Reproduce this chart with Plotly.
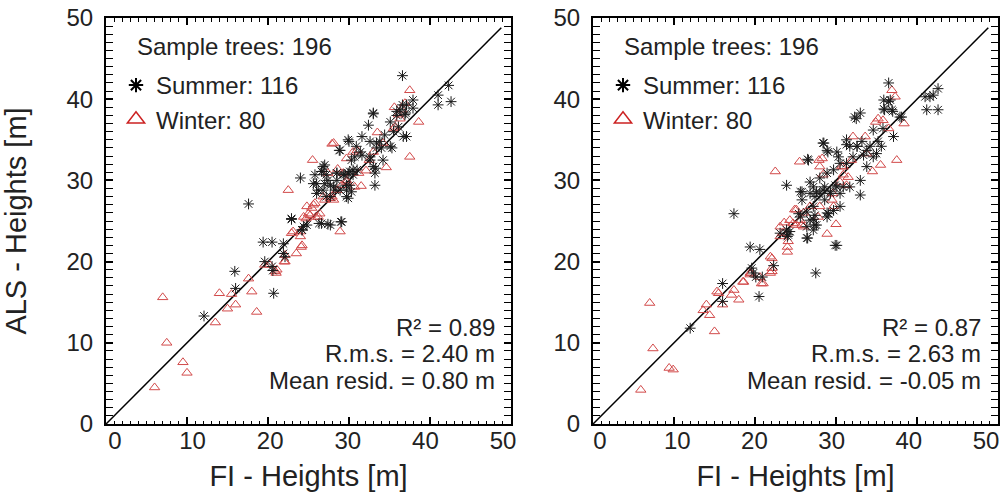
import plotly.graph_objects as go

# ---------------- data ----------------
left_summer_x = [12.1, 16.0, 15.9, 17.6, 19.4, 20.5, 19.6, 20.5, 20.6, 20.7, 21.9, 21.9, 22.1, 22.9, 24.2,
                 24.0, 24.8, 26.3, 27.4, 27.7, 29.1, 25.6, 25.8, 26.0, 26.2, 26.6, 26.8, 27.0, 27.2, 27.4,
                 27.7, 28.1, 28.5, 28.5, 28.8, 28.9, 29.3, 29.5, 29.7, 29.9, 30.1, 30.3, 29.9, 30.5, 30.5,
                 31.0, 29.9, 30.7, 30.9, 31.4, 31.6, 31.6, 32.4, 33.0, 33.2, 32.6, 33.0, 33.2, 33.4, 33.4,
                 33.8, 34.0, 34.2, 34.4, 35.1, 35.1, 35.3, 35.5, 35.9, 36.1, 36.3, 36.6, 36.6, 36.7, 36.9,
                 37.1, 37.1, 37.9, 37.9, 41.0, 41.0, 42.3, 42.6, 27.2, 27.7, 26.8, 26.0, 29.7, 28.3, 29.7,
                 30.1, 28.5, 30.3, 32.6, 33.3, 26.8, 27.0, 22.9, 24.4, 26.6, 29.0, 32.6, 30.0, 28.9, 35.9,
                 37.0, 33.0, 24.2]
left_summer_y = [13.3, 16.7, 18.8, 27.1, 22.4, 22.4, 20.0, 19.4, 18.9, 16.1, 22.2, 21.0, 20.6, 25.2, 23.9,
                 30.3, 24.5, 24.7, 24.6, 24.5, 24.9, 29.6, 30.7, 29.6, 28.8, 31.1, 31.7, 31.9, 30.7, 30.0,
                 29.4, 29.2, 30.0, 30.9, 33.7, 28.8, 30.7, 30.7, 28.8, 27.8, 29.4, 28.6, 30.9, 31.3, 30.7,
                 31.3, 35.0, 32.9, 34.2, 33.5, 33.1, 35.4, 36.8, 38.3, 29.4, 32.5, 31.7, 30.9, 34.0, 34.6,
                 34.8, 34.0, 32.5, 35.6, 34.2, 37.2, 34.0, 36.0, 38.0, 36.6, 38.7, 39.3, 42.9, 35.4, 38.1,
                 35.4, 39.3, 38.9, 39.9, 40.5, 39.3, 41.7, 39.7, 28.0, 28.0, 28.8, 28.4, 28.0, 28.8, 29.4,
                 31.1, 30.9, 32.5, 32.9, 31.5, 31.1, 29.6, 25.3, 24.3, 24.7, 24.9, 34.8, 34.8, 33.7, 38.5,
                 38.3, 38.2, 23.9]

left_winter_x = [6.0, 10.0, 9.5, 7.5, 7.0, 13.5, 15.0, 16.0, 14.0, 15.5, 17.6, 18.0, 18.6, 19.6, 20.2,
                 21.0, 21.1, 22.0, 22.1, 23.5, 24.1, 24.0, 24.2, 22.9, 23.1, 24.0, 22.5, 25.5, 28.9, 27.9,
                 37.5, 38.6, 37.5, 34.6, 33.5, 31.5, 32.1, 35.6, 36.1, 35.7, 36.3, 29.7, 30.5, 28.6, 28.1,
                 31.0, 24.7, 24.8, 25.2, 25.4, 25.6, 25.8, 25.9, 26.2, 26.4, 27.0, 27.7, 27.9, 28.1, 28.5,
                 29.1, 29.7, 29.7, 30.7, 31.2, 32.5, 33.0, 34.2, 35.5, 36.5, 36.9, 29.3, 27.4, 25.0, 26.8,
                 24.4, 22.1, 20.9]
left_winter_y = [4.5, 6.3, 7.6, 10.0, 15.6, 12.5, 14.2, 14.7, 16.1, 16.0, 17.9, 16.3, 13.8, 19.6, 19.6,
                 18.6, 19.0, 20.0, 20.8, 21.0, 21.8, 23.1, 22.0, 23.5, 23.7, 23.7, 28.8, 32.5, 23.7, 34.5,
                 41.1, 37.2, 32.9, 31.6, 35.9, 29.3, 31.2, 39.0, 38.1, 36.6, 37.6, 32.7, 33.5, 31.4, 34.6,
                 33.7, 25.3, 26.8, 25.7, 26.6, 27.0, 27.2, 25.5, 25.5, 25.9, 27.6, 27.8, 28.0, 27.6, 28.8,
                 29.4, 29.8, 30.0, 29.2, 30.9, 32.5, 33.5, 34.6, 36.4, 38.7, 39.5, 30.9, 30.9, 25.9, 28.0,
                 25.5, 20.0, 18.8]

right_summer_x = [12.0, 16.0, 16.0, 17.4, 19.4, 20.6, 20.5, 19.6, 20.1, 20.9, 23.9, 26.5, 27.5, 26.5, 24.0,
                  24.3, 25.4, 26.4, 27.2, 27.4, 30.1, 28.9, 29.1, 28.4, 29.0, 30.1, 31.3, 33.0, 33.0, 32.3,
                  33.0, 36.0, 36.5, 36.7, 37.9, 37.1, 35.6, 34.2, 33.4, 33.8, 32.6, 31.7, 31.3, 30.3, 29.7,
                  28.9, 28.0, 27.2, 26.8, 25.8, 25.8, 26.8, 27.6, 28.0, 28.6, 29.3, 29.9, 30.5, 28.6, 27.2,
                  26.4, 23.9, 23.1, 41.0, 42.0, 42.6, 41.2, 42.6, 34.6, 34.6, 35.2, 35.9, 36.9, 30.9, 31.7,
                  30.5, 29.7, 27.2, 22.3, 37.0, 35.9, 38.1, 41.6, 32.5, 28.5, 28.9, 31.3, 32.6, 33.2, 35.8,
                  33.8, 35.0, 32.1, 30.5, 26.6, 25.6, 28.4, 29.3, 30.1, 27.4, 28.9, 27.4, 25.6, 26.8, 27.6,
                  26.4, 29.9, 24.1, 19.8, 36.5]
right_summer_y = [11.8, 17.3, 15.1, 25.9, 21.8, 21.5, 15.7, 19.2, 18.1, 18.1, 29.4, 32.6, 18.6, 22.9, 23.1,
                  23.7, 25.9, 24.3, 25.2, 24.5, 22.0, 25.5, 25.9, 34.6, 33.5, 33.5, 32.1, 28.2, 30.0, 37.8,
                  38.3, 38.7, 42.0, 39.9, 37.8, 35.4, 34.2, 34.2, 33.1, 31.7, 34.2, 34.2, 35.0, 32.9, 31.3,
                  30.9, 30.3, 29.2, 29.8, 28.6, 27.6, 28.4, 28.6, 28.4, 29.2, 28.6, 29.4, 28.4, 27.6, 26.8,
                  26.1, 23.9, 23.5, 40.3, 40.5, 41.3, 38.7, 38.7, 36.2, 32.9, 34.8, 39.9, 38.7, 29.2, 29.2,
                  26.8, 26.3, 23.9, 19.5, 38.5, 38.8, 37.8, 40.3, 37.6, 34.6, 33.7, 34.4, 34.2, 34.8, 36.4,
                  33.7, 33.3, 32.9, 32.1, 32.5, 28.6, 28.8, 28.4, 29.2, 28.0, 26.0, 25.7, 25.5, 25.1, 24.5,
                  22.9, 22.0, 23.3, 18.6, 39.7]

right_winter_x = [5.9, 9.4, 9.9, 7.4, 7.0, 15.0, 14.4, 14.0, 13.6, 15.3, 16.0, 17.1, 17.4, 18.0, 18.5,
                  19.4, 21.0, 22.1, 22.1, 24.0, 24.0, 23.6, 24.9, 26.0, 25.8, 28.9, 30.0, 22.5, 25.5, 28.3,
                  28.4, 29.6, 30.9, 31.3, 32.1, 33.6, 34.5, 35.5, 37.5, 38.4, 35.8, 36.9, 37.3, 29.5, 28.0,
                  30.5, 31.5, 27.8, 26.8, 25.6, 24.7, 23.1, 23.4, 20.6, 19.5, 33.8, 31.9, 30.9, 35.2, 36.5,
                  27.9, 28.0, 30.7, 25.1, 24.3, 25.1, 26.0, 24.1, 23.1, 21.9, 22.1, 21.9, 20.8, 19.4, 18.6,
                  15.5, 29.7, 34.9]
right_winter_y = [4.2, 6.9, 6.7, 9.3, 14.9, 11.4, 13.4, 14.7, 14.0, 16.3, 14.7, 15.9, 16.5, 15.3, 17.5,
                  18.4, 17.3, 18.8, 20.4, 21.2, 21.8, 24.8, 26.4, 26.0, 24.5, 23.4, 24.6, 31.1, 32.3, 32.7,
                  30.7, 28.4, 31.7, 29.4, 35.4, 35.4, 31.1, 31.9, 32.5, 37.0, 37.4, 41.1, 40.3, 27.6, 26.8,
                  29.8, 30.4, 25.5, 26.8, 25.1, 24.7, 24.3, 23.5, 18.1, 18.6, 33.3, 32.5, 30.7, 37.6, 36.4,
                  32.5, 31.7, 31.7, 26.4, 25.1, 24.5, 24.3, 22.5, 23.1, 20.6, 19.2, 18.6, 17.3, 18.6, 17.5,
                  16.1, 26.8, 37.2]

one_to_one = [0, 48.8]
axis_ticks = [0, 10, 20, 30, 40, 50]

sample_label = "Sample trees: 196"
summer_label = "Summer: 116"
winter_label = "Winter: 80"
left_stats = ["R² = 0.89", "R.m.s. = 2.40 m", "Mean resid. = 0.80 m"]
right_stats = ["R² = 0.87", "R.m.s. = 2.63 m", "Mean resid. = -0.05 m"]

# ---------------- styling ----------------
FONT = "Liberation Sans, Arial, Helvetica, sans-serif"
TXT = "#222222"
SUMMER_C = "#1a1a1a"
WINTER_C = "#d24a4a"

W, H = 1004, 500


def px(p):
    return p / W


def py(p):
    return 1 - p / H


fig = go.Figure()

panels = [
    ("x", "y", left_summer_x, left_summer_y, left_winter_x, left_winter_y, "legend"),
    ("x2", "y2", right_summer_x, right_summer_y, right_winter_x, right_winter_y, "legend2"),
]
for xa, ya, sx, sy, wx, wy, lg in panels:
    fig.add_trace(go.Scatter(x=one_to_one, y=one_to_one, mode="lines", xaxis=xa, yaxis=ya,
                             line=dict(color="black", width=1.5), showlegend=False, hoverinfo="skip"))
    fig.add_trace(go.Scatter(x=wx, y=wy, mode="markers", xaxis=xa, yaxis=ya, showlegend=False,
                             marker=dict(symbol="triangle-up-open", size=9, color=WINTER_C,
                                         line=dict(width=1, color=WINTER_C))))
    fig.add_trace(go.Scatter(x=sx, y=sy, mode="markers", xaxis=xa, yaxis=ya, showlegend=False,
                             marker=dict(symbol="asterisk-open", size=9, color=SUMMER_C,
                                         line=dict(width=1, color=SUMMER_C))))
    # legend entries
    fig.add_trace(go.Scatter(x=[None], y=[None], mode="markers", xaxis=xa, yaxis=ya, name=summer_label,
                             legend=lg,
                             marker=dict(symbol="asterisk-open", size=12, color="black",
                                         line=dict(width=2, color="black"))))
    fig.add_trace(go.Scatter(x=[None], y=[None], mode="markers", xaxis=xa, yaxis=ya, name=winter_label,
                             legend=lg,
                             marker=dict(symbol="triangle-up-open", size=15, color="#cc2222",
                                         line=dict(width=1.5, color="#cc2222"))))

axis_common = dict(
    range=[0, 50], tickvals=axis_ticks, showline=True, linewidth=2, linecolor="black",
    mirror="allticks", ticks="inside", ticklen=7, tickwidth=1.5, tickcolor="black",
    minor=dict(dtick=1, ticklen=3.5, ticks="inside", tickcolor="black", tickwidth=1),
    showgrid=False, zeroline=False, automargin=False, ticklabeloverflow="allow",
    tickfont=dict(family=FONT, size=24, color=TXT),
)

# x tick labels in the reference sit on a slightly tighter spacing than the tick marks:
# a label-only axis overlays each x axis to reproduce that.
label_axis = dict(
    showline=False, ticks="", showgrid=False, zeroline=False, automargin=False,
    tickvals=axis_ticks, ticklabeloverflow="allow", ticklabelstandoff=0,
    tickfont=dict(family=FONT, size=24, color=TXT), fixedrange=True,
)

ydom = [py(424), py(18)]
title_font = dict(size=29, family=FONT, color=TXT)
fig.update_layout(
    width=W, height=H,
    margin=dict(l=0, r=0, t=0, b=0),
    paper_bgcolor="white", plot_bgcolor="white",
    font=dict(family=FONT, color=TXT),
    xaxis=dict(domain=[px(106), px(511)], anchor="y", showticklabels=False, **axis_common),
    yaxis=dict(domain=ydom, anchor="x",
               title=dict(text="ALS - Heights [m]", font=title_font, standoff=32),
               ticklabelstandoff=6, **axis_common),
    xaxis2=dict(domain=[px(593), px(998)], anchor="y2", showticklabels=False, **axis_common),
    yaxis2=dict(domain=ydom, anchor="x2", ticklabelstandoff=6, **axis_common),
    xaxis3=dict(overlaying="x", anchor="y", side="bottom", range=[-1.16, 51.03],
                title=dict(text="FI - Heights [m]", font=title_font, standoff=12), **label_axis),
    xaxis4=dict(overlaying="x2", anchor="y2", side="bottom", range=[-0.91, 51.55],
                title=dict(text="FI - Heights [m]", font=title_font, standoff=12), **label_axis),
    legend=dict(x=px(116), y=py(63), xanchor="left", yanchor="top",
                bgcolor="rgba(0,0,0,0)", font=dict(size=24, family=FONT, color=TXT),
                tracegroupgap=0, itemwidth=30),
    legend2=dict(x=px(603), y=py(63), xanchor="left", yanchor="top",
                 bgcolor="rgba(0,0,0,0)", font=dict(size=24, family=FONT, color=TXT),
                 tracegroupgap=0, itemwidth=30),
    showlegend=True,
)

# invisible traces so the label axes are drawn with their titles
fig.add_trace(go.Scatter(x=[None], y=[None], xaxis="x3", yaxis="y", showlegend=False, hoverinfo="skip"))
fig.add_trace(go.Scatter(x=[None], y=[None], xaxis="x4", yaxis="y2", showlegend=False, hoverinfo="skip"))

annotations = []
for x_left, x_right, stats in [(135, 497, left_stats), (622, 983, right_stats)]:
    annotations.append(dict(x=px(x_left), y=py(47), xref="paper", yref="paper",
                            text=sample_label, showarrow=False, xanchor="left", yanchor="middle",
                            font=dict(size=24, family=FONT, color=TXT)))
    for t, yy in zip(stats, [327, 353, 380]):
        annotations.append(dict(x=px(x_right), y=py(yy), xref="paper", yref="paper",
                                text=t, showarrow=False, xanchor="right", yanchor="middle",
                                font=dict(size=24, family=FONT, color=TXT)))
fig.update_layout(annotations=annotations)

# remove the default page margin so the figure fills the window exactly; hide the mode bar
fig.write_html("out.html", config={"displayModeBar": False},
               post_script="document.body.style.margin='0';")
